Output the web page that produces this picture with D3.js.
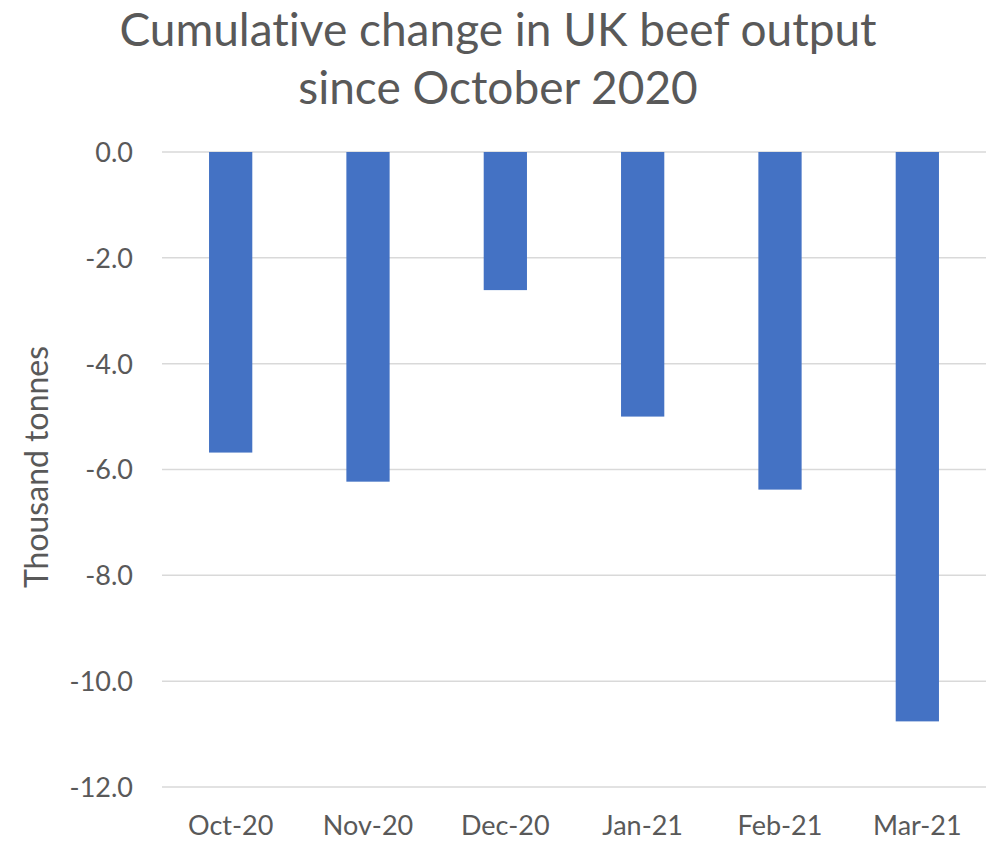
<!DOCTYPE html>
<html>
<head>
<meta charset="utf-8">
<script src="https://cdn.jsdelivr.net/npm/d3@7"></script>
<style>
  html, body { margin: 0; padding: 0; background: #fff; }
  svg text { font-family: Lato, "Open Sans", sans-serif; fill: #595959; font-variant-ligatures: none; }
</style>
</head>
<body>
<svg id="chart" width="986" height="842"></svg>
<script>
// Monthly categories and cumulative change (thousand tonnes)
const months = ["Oct-20", "Nov-20", "Dec-20", "Jan-21", "Feb-21", "Mar-21"];
const cumulativeChange = [-5.68, -6.23, -2.61, -5.0, -6.38, -10.76];
const yTicks = [0, -2, -4, -6, -8, -10, -12];
const titleLines = ["Cumulative change in UK beef output", "since October 2020"];
const yAxisTitle = "Thousand tonnes";

const svg = d3.select("#chart");
const plot = { left: 162, right: 986, top: 152, bottom: 787 };

const x = d3.scaleBand().domain(months).range([plot.left, plot.right]).paddingInner(0.685).paddingOuter(0.3425);
const y = d3.scaleLinear().domain([0, -12]).range([plot.top, plot.bottom]);

// Title
svg.append("g").selectAll("text").data(titleLines).join("text")
  .attr("x", 498).attr("y", (d, i) => 46 + i * 58)
  .attr("text-anchor", "middle").attr("font-size", 46)
  .text(d => d);

// Gridlines
svg.append("g").selectAll("line").data(yTicks).join("line")
  .attr("x1", plot.left).attr("x2", plot.right)
  .attr("y1", d => y(d)).attr("y2", d => y(d))
  .attr("stroke", "#d9d9d9").attr("stroke-width", 1.5);

// Y axis labels (plain hyphen for negatives)
const fmt = d => d3.format(".1f")(d).replace("\u2212", "-");
const yAxis = d3.axisLeft(y).tickValues(yTicks).tickFormat(fmt).tickSize(0).tickPadding(0);
svg.append("g").attr("transform", `translate(133,0)`).call(yAxis)
  .call(g => g.select(".domain").remove())
  .call(g => g.selectAll("text").attr("font-size", 27).attr("font-family", null).attr("fill", null).attr("dy", "0.35em"));

// Bars
svg.append("g").selectAll("rect").data(months).join("rect")
  .attr("x", d => x(d))
  .attr("width", x.bandwidth())
  .attr("y", y(0))
  .attr("height", (d, i) => y(cumulativeChange[i]) - y(0))
  .attr("fill", "#4472c4");

// X axis labels
const xAxis = d3.axisBottom(x).tickSize(0).tickPadding(0);
svg.append("g").attr("transform", `translate(0,835)`).call(xAxis)
  .call(g => g.select(".domain").remove())
  .call(g => g.selectAll("text").attr("font-size", 27).attr("font-family", null).attr("fill", null).attr("dy", null));

// Y axis title
svg.append("text")
  .attr("transform", "translate(48,467) rotate(-90)")
  .attr("text-anchor", "middle").attr("font-size", 32)
  .text(yAxisTitle);
</script>
</body>
</html>
